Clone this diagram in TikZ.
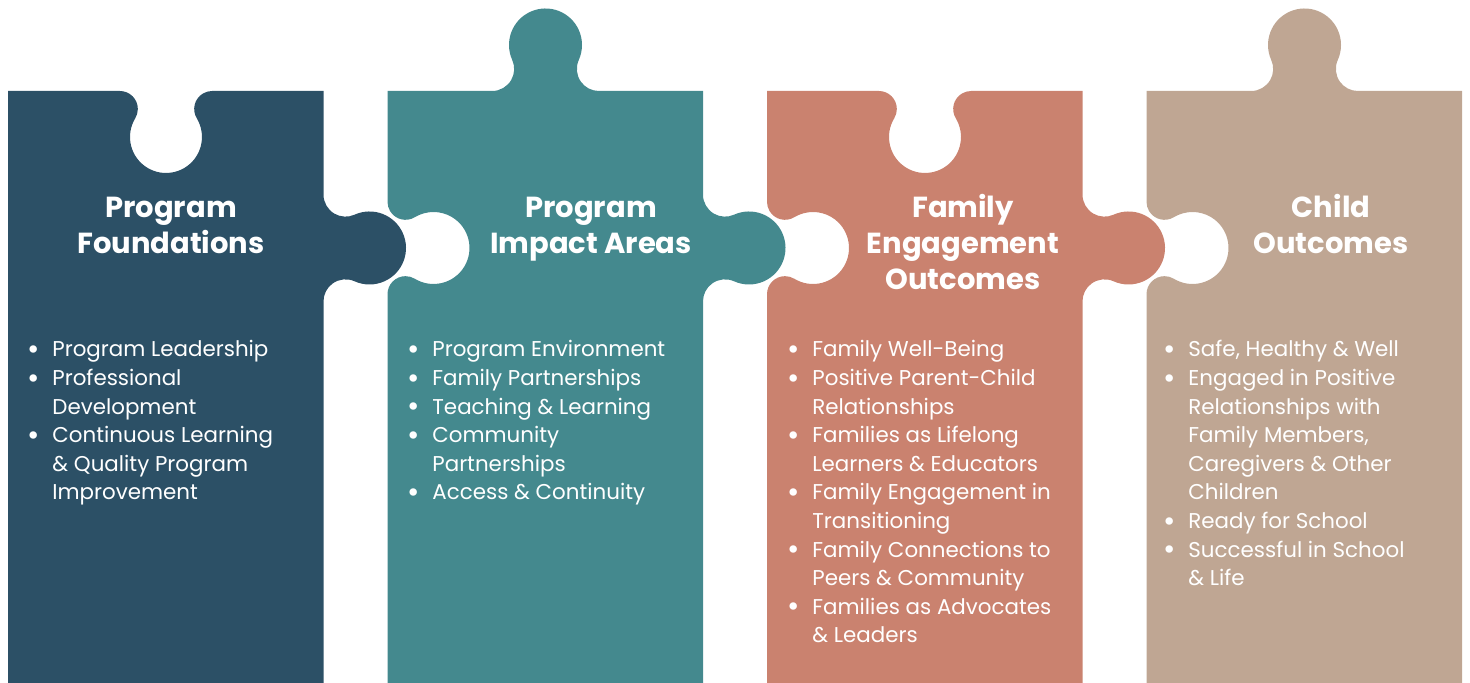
\documentclass[tikz,border=0pt]{standalone}
\usepackage{fontspec}
\setmainfont{Poppins}
\usepackage{xcolor}
\definecolor{pfound}{HTML}{2C5066}
\definecolor{pimpact}{HTML}{44898E}
\definecolor{pfamily}{HTML}{CA826F}
\definecolor{pchild}{HTML}{BFA693}
\newcommand{\ttl}[1]{\begin{tabular}[t]{@{}c@{}}#1\end{tabular}}
\newcommand{\plist}[1]{\begin{tabular}[t]{@{}p{12.5pt}@{}l@{}}#1\end{tabular}}
\newcommand{\bl}{\raisebox{-1.3pt}{\fontsize{15}{14.3}\selectfont\textbullet}}

\begin{document}
\begin{tikzpicture}[x=0.5pt,y=0.5pt]
    \tikzset{topknob/.style={insert path={arc[start angle=270,end angle=384.22,radius=22] arc[start angle=204.22,end angle=-24.22,radius=36.5] arc[start angle=155.78,end angle=270,radius=22]}},
      tophole/.style={insert path={arc[start angle=90,end angle=-31.23,radius=18] arc[start angle=148.77,end angle=391.23,radius=36] arc[start angle=211.23,end angle=90,radius=18]}},
      sidetab/.style={insert path={arc[start angle=180,end angle=294.22,radius=22] arc[start angle=114.22,end angle=-114.22,radius=36.5] arc[start angle=65.78,end angle=180,radius=22]}},
      sidehole/.style={insert path={arc[start angle=180,end angle=58.77,radius=18] arc[start angle=238.77,end angle=481.23,radius=36] arc[start angle=301.23,end angle=180,radius=18]}},
      title/.style={text=white,inner sep=0pt,anchor=base,font={\fontsize{14.5}{18}\selectfont\bfseries}},
      items/.style={text=white,inner sep=0pt,anchor=base west,font={\fontsize{10.7}{14.3}\selectfont}}}
\useasboundingbox (0,0) rectangle (1470,683);
% pieces
\fill[pfound] (8,0) -- (8,592) -- (119.83,592) [tophole] -- (323.5,592) -- (323.5,488.35) [sidetab] -- (323.5,0) -- cycle;
\fill[pimpact] (387.5,0) -- (387.5,388.83) [sidehole] -- (387.5,592) -- (492.15,592) [topknob] -- (703,592) -- (703,488.35) [sidetab] -- (703,0) -- cycle;
\fill[pfamily] (767,0) -- (767,388.83) [sidehole] -- (767,592) -- (878.83,592) [tophole] -- (1082.5,592) -- (1082.5,488.35) [sidetab] -- (1082.5,0) -- cycle;
\fill[pchild] (1146.5,0) -- (1146.5,388.83) [sidehole] -- (1146.5,592) -- (1251.15,592) [topknob] -- (1462,592) -- (1462,0) -- cycle;
% titles
\node[title] (found) at (171,465) {\ttl{Program\\Foundations}};
\node[title] (impact) at (591,465) {\ttl{Program\\Impact Areas}};
\node[title] (family) at (963,465) {\ttl{Family\\Engagement\\Outcomes}};
\node[title] (child) at (1331,465) {\ttl{Child\\Outcomes}};
% lists
\node[items] (foundlist) at (27,326) {\plist{\bl & Program Leadership\\ \bl & Professional\\ & Development\\ \bl & Continuous Learning\\ & \& Quality Program\\ & Improvement}};
\node[items] (impactlist) at (407,326) {\plist{\bl & Program Environment\\ \bl & Family Partnerships\\ \bl & Teaching \& Learning\\ \bl & Community\\ & Partnerships\\ \bl & Access \& Continuity}};
\node[items] (familylist) at (787,326) {\plist{\bl & Family Well-Being\\ \bl & Positive Parent-Child\\ & Relationships\\ \bl & Families as Lifelong\\ & Learners \& Educators\\ \bl & Family Engagement in\\ & Transitioning\\ \bl & Family Connections to\\ & Peers \& Community\\ \bl & Families as Advocates\\ & \& Leaders}};
\node[items] (childlist) at (1163,326) {\plist{\bl & Safe, Healthy \& Well\\ \bl & Engaged in Positive\\ & Relationships with\\ & Family Members,\\ & Caregivers \& Other\\ & Children\\ \bl & Ready for School\\ \bl & Successful in School\\ & \& Life}};
\end{tikzpicture}
\end{document}
